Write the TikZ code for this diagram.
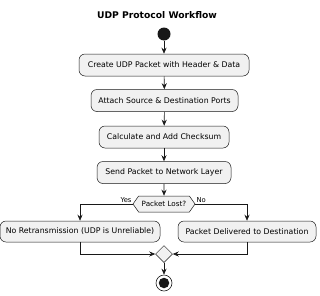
\documentclass[tikz,border=0pt]{standalone}
\usepackage{fontspec}
\setmainfont{DejaVu Sans}
\usetikzlibrary{arrows.meta,shapes.geometric,shapes.symbols}
\definecolor{boxfill}{HTML}{F1F1F1}
\definecolor{edge}{HTML}{181818}
\begin{document}
\begin{tikzpicture}[x=1pt,y=-1pt,
  act/.style={draw=edge,fill=boxfill,rounded corners=6pt,line width=0.5pt,font=\fontsize{7.8}{9}\selectfont,inner sep=0pt,minimum height=22pt},
  flow/.style={draw=edge,line width=0.6pt,-{Stealth[length=6pt,width=5pt,inset=2pt]}},
  lbl/.style={font=\fontsize{6.8}{8}\selectfont,inner sep=1pt}]
\useasboundingbox (0,0) rectangle (320,295);
\node[font=\bfseries\fontsize{9.2}{11}\selectfont] (title) at (157,15) {UDP Protocol Workflow};
\node[circle,fill=edge,minimum size=13pt,inner sep=0pt] (start) at (164,34) {};
\node[act,minimum width=170pt] (b1) at (164,65) {Create UDP Packet with Header \& Data};
\node[act,minimum width=147pt] (b2) at (164.5,100.5) {Attach Source \& Destination Ports};
\node[act,minimum width=130pt] (b3) at (164,137) {Calculate and Add Checksum};
\node[act,minimum width=134pt] (b4) at (164,172.5) {Send Packet to Network Layer};
\node[signal,signal to=east and west,signal pointer angle=110,draw=edge,fill=boxfill,line width=0.5pt,minimum width=62pt,minimum height=16pt,inner sep=0pt,font=\fontsize{7.2}{8}\selectfont] (q) at (164,204) {Packet Lost?};
\node[act,minimum width=160pt,minimum height=21pt] (l) at (80,231.5) {No Retransmission (UDP is Unreliable)};
\node[act,minimum width=138pt,minimum height=21pt] (r) at (247,231.5) {Packet Delivered to Destination};
\node[diamond,draw=edge,fill=boxfill,line width=0.5pt,minimum size=17pt,inner sep=0pt] (m) at (164,254) {};
\node[circle,draw=edge,line width=0.6pt,minimum size=16pt,inner sep=0pt] (end) at (164,283) {};
\node[circle,fill=edge,minimum size=10.5pt,inner sep=0pt] (endin) at (164,283) {};
\draw[flow] (start) -- (b1);
\draw[flow] (b1) -- (b2);
\draw[flow] (b2) -- (b3);
\draw[flow] (b3) -- (b4);
\draw[flow] (b4) -- (q);
\draw[flow] (q.west) -| (l.north);
\draw[flow] (q.east) -| (r.north);
\node[lbl,anchor=south east] (yes) at (q.west) {Yes};
\node[lbl,anchor=south west] (no) at (q.east) {No};
\draw[flow] (l.south) |- (m.west);
\draw[flow] (r.south) |- (m.east);
\draw[flow] (m) -- (end);
\end{tikzpicture}
\end{document}
